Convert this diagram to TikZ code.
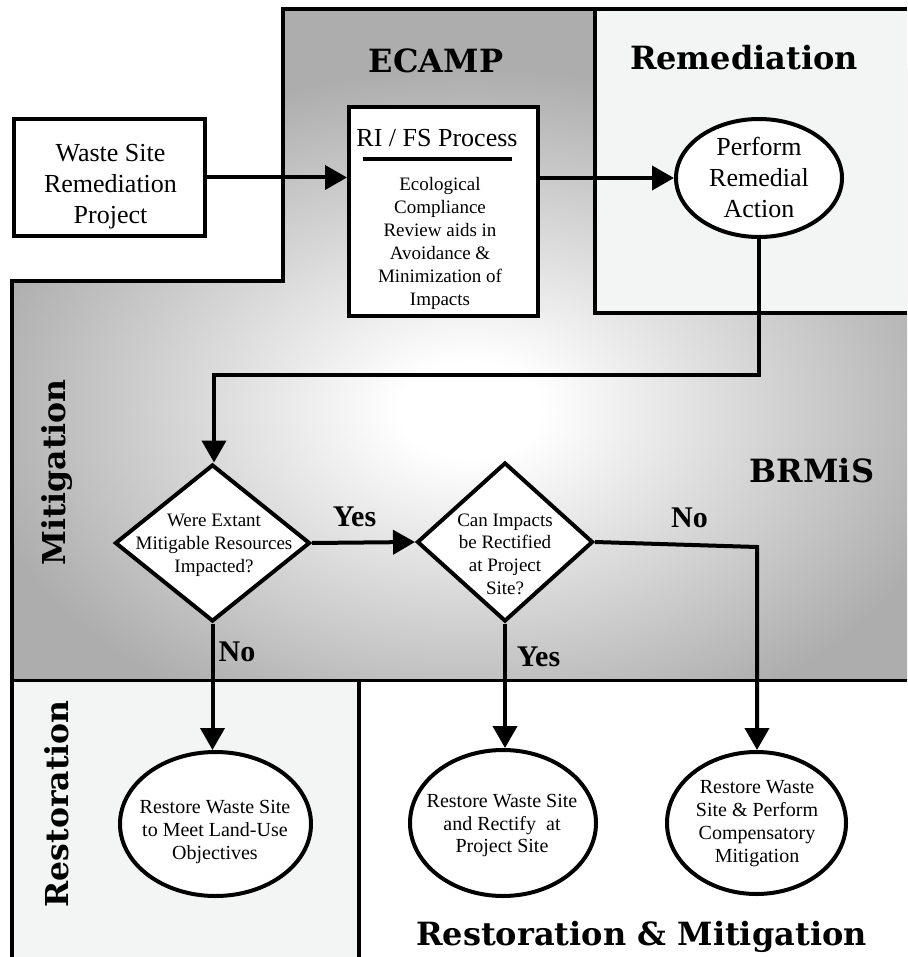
\documentclass[tikz,border=0pt]{standalone}
\usepackage{fontspec}
\setmainfont{Liberation Serif}
\newfontfamily\headfont{DejaVu Serif}
\usetikzlibrary{shapes.geometric,arrows.meta}
\definecolor{shadegray}{gray}{0.68}
\definecolor{panel}{HTML}{F3F5F4}
% soft light spot in the middle of the grey ECAMP / mitigation field
% (a shaded path's box spans 25bp from the centre)
\pgfdeclareradialshading{haze}{\pgfpoint{0bp}{0bp}}{color(0bp)=(white); color(3.5bp)=(white); color(25bp)=(shadegray); color(50bp)=(shadegray)}

\begin{document}
\begin{tikzpicture}[x=1pt,y=-1pt,
  edge/.style={line width=3.5pt, line join=miter},
  conn/.style={line width=4pt, -{Triangle[length=22pt,width=24pt]}},
  box/.style={draw, line width=4pt, fill=white, rectangle, inner sep=0pt},
  oval/.style={draw, line width=4pt, fill=white, ellipse, inner sep=0pt},
  decision/.style={draw, line width=4pt, fill=white, diamond, inner sep=0pt},
  body/.style={align=center, inner sep=0pt},
  head/.style={font=\headfont\bfseries, inner sep=0pt},
  answer/.style={font=\fontsize{30}{36}\selectfont\bfseries, inner sep=0pt}]

\fill[white] (0,0) rectangle (907,957);
\useasboundingbox (0,0) rectangle (907,957);

% grey field of ECAMP and mitigation
\begin{scope}
  \clip (283,9) -- (907,9) -- (907,680.5) -- (12,680.5) -- (12,281) -- (283,281) -- cycle;
  \fill[shadegray] (0,0) rectangle (907,690);
  \shade[shading=haze] (-30,70) rectangle (970,750);
\end{scope}

% light panels
\fill[panel] (595,9) rectangle (907,313);
\fill[panel] (12,680.5) rectangle (359,957);

% panel borders
\draw[edge] (12,957) -- (12,281) -- (283,281) -- (283,9) -- (907,9);
\draw[edge] (595,9) -- (595,313) -- (907,313);
\draw[edge] (12,680.5) -- (907,680.5);
\draw[edge] (359,680.5) -- (359,957);

% panel titles
\node[head, font=\headfont\bfseries\fontsize{32}{38}\selectfont] (ecamp) at (436,60.5) {ECAMP};
\node[head, font=\headfont\bfseries\fontsize{32}{38}\selectfont] (remed) at (744,57.5) {Remediation};
\node[head, font=\headfont\bfseries\fontsize{32}{38}\selectfont] (brmis) at (812,470.5) {BRMiS};
\node[head, font=\headfont\bfseries\fontsize{31.5}{37}\selectfont, rotate=90] (mitig) at (57,472.5) {Mitigation};
\node[head, font=\headfont\bfseries\fontsize{31.5}{37}\selectfont, rotate=90] (resto) at (56.5,804) {Restoration};
\node[head, font=\headfont\bfseries\fontsize{32}{38}\selectfont] (restmit) at (641.5,937) {Restoration \& Mitigation};

% process shapes
\node[box, minimum width=191, minimum height=117] (waste) at (109.5,177.5) {};
\node[body, font=\fontsize{26}{31}\selectfont] (wastetxt) at (110.5,187) {Waste Site\\Remediation\\Project};

\node[box, minimum width=189, minimum height=209] (rifs) at (443.5,211.5) {};
\node[body, font=\fontsize{26}{31}\selectfont] (rifstitle) at (437,138) {RI / FS Process};
\draw[line width=4pt] (363,159) -- (512,159);
\node[body, font=\fontsize{19}{23}\selectfont] (rifstxt) at (440,243) {Ecological\\Compliance\\Review aids in\\Avoidance \&\\Minimization of\\Impacts};

\node[oval, minimum width=166, minimum height=118] (perform) at (759,178) {};
\node[body, font=\fontsize{26}{31}\selectfont] (performtxt) at (759,177.5) {Perform\\Remedial\\Action};

\node[decision, minimum width=195, minimum height=157] (d1) at (212.5,543) {};
\node[body, font=\fontsize{19}{23}\selectfont] (d1txt) at (214,545) {Were Extant\\Mitigable Resources\\Impacted?};

\node[decision, minimum width=176, minimum height=159] (d2) at (505,542) {};
\node[body, font=\fontsize{19}{22.7}\selectfont] (d2txt) at (505,554) {Can Impacts\\be Rectified\\at Project\\Site?};

\node[oval, minimum width=191, minimum height=144] (e1) at (215.5,824) {};
\node[body, font=\fontsize{20}{23}\selectfont] (e1txt) at (215,831.5) {Restore Waste Site\\to Meet Land-Use\\Objectives};

\node[oval, minimum width=186, minimum height=146] (e2) at (503,823) {};
\node[body, font=\fontsize{20}{22.5}\selectfont] (e2txt) at (502,825.5) {Restore Waste Site\\and Rectify\ \ at\\Project Site};

\node[oval, minimum width=179, minimum height=142] (e3) at (756.5,823) {};
\node[body, font=\fontsize{20}{23}\selectfont] (e3txt) at (757,824) {Restore Waste\\Site \& Perform\\Compensatory\\Mitigation};

% connectors
\coordinate (loop) at (214,375);
\coordinate (nobend) at (757,547);
\draw[conn] (waste.east) -- (rifs.west |- waste.east);
\draw[conn] (rifs.east |- perform.west) -- (perform.west);
\draw[conn] (perform.south) |- (loop) -- (loop |- d1.north);
\draw[conn] (d1.east) -- (d2.west);
\draw[conn] (d1.south) -- (d1.south |- e1.north);
\draw[conn] (d2.south) -- (d2.south |- e2.north);
\draw[conn] (d2.east) -- (nobend) -- (nobend |- e3.north);

% decision answers
\node[answer] (yes1) at (354.5,517) {Yes};
\node[answer] (no1) at (237,652) {No};
\node[answer] (yes2) at (538.5,657) {Yes};
\node[answer] (no2) at (689.5,518) {No};

\end{tikzpicture}
\end{document}
